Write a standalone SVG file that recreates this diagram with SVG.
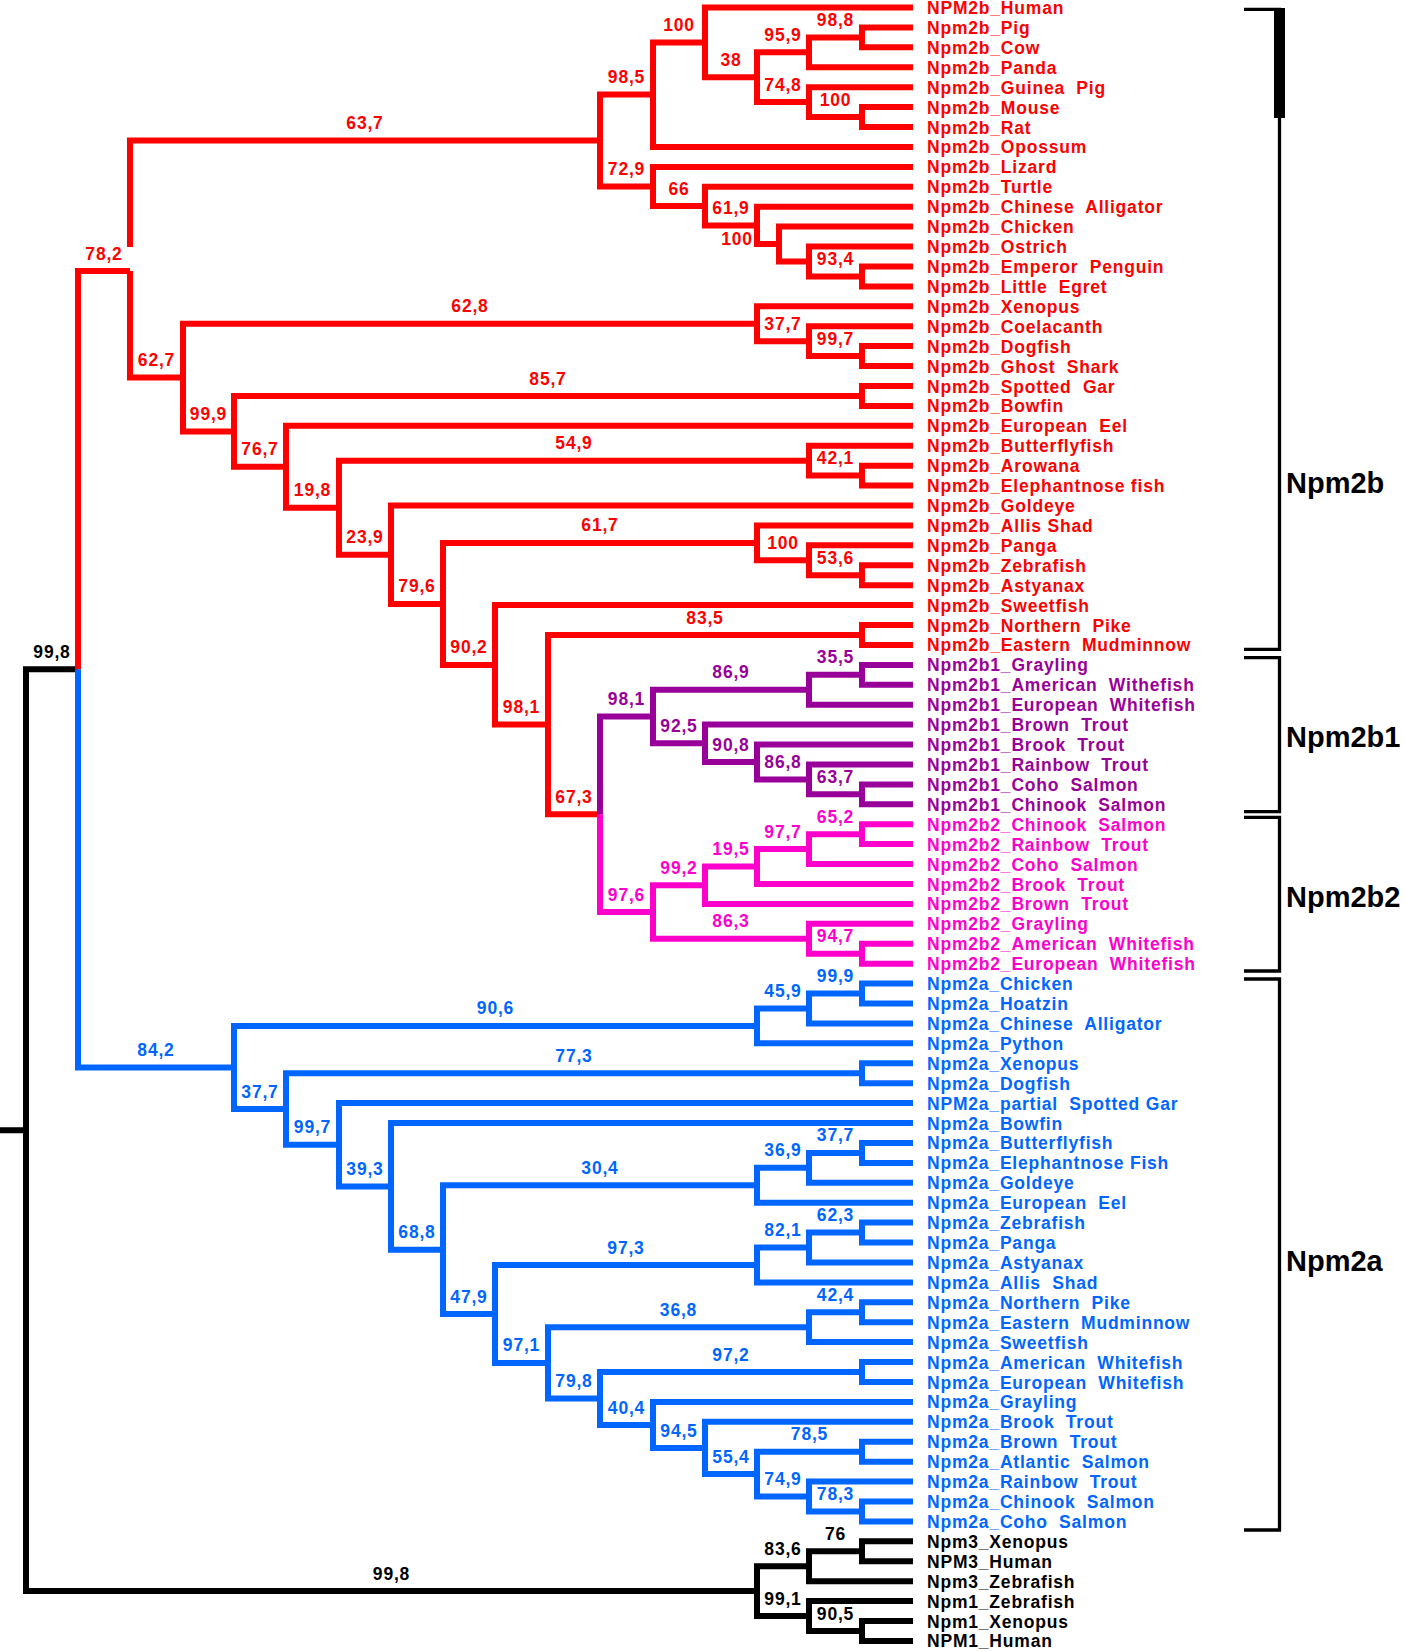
<svg xmlns="http://www.w3.org/2000/svg" width="1404" height="1652" viewBox="0 0 1404 1652">
<style>
.e{fill:none;stroke-width:6;stroke-linecap:butt;stroke-linejoin:miter}
.er{stroke:#FF0000}.ep{stroke:#990099}.em{stroke:#FF00CC}.eb{stroke:#0066FF}.ek{stroke:#000}
text{font-family:"Liberation Sans",Arial,sans-serif;font-weight:bold;font-size:17.5px;letter-spacing:0.8px;white-space:pre}
.s{text-anchor:middle}
.r{fill:#FF0000}.p{fill:#990099}.m{fill:#FF00CC}.b{fill:#0066FF}.k{fill:#000}
.br{fill:none;stroke:#000;stroke-width:3.3}
.gl{font-size:29px;letter-spacing:0}
</style>
<g id="connectors">
<path class="e ek" d="M0 1130.2H26M26 1130.2V669.2H78M26 1130.2V1591.1H757M757 1591.1V1566.2H809M757 1591.1V1616H809M809 1566.2V1551.3H862M809 1566.2V1581.2H913M862 1551.3V1541.3H913M862 1551.3V1561.3H913M809 1616V1601.1H913M809 1616V1631H862M862 1631V1621H913M862 1631V1640.9H913"/>
<path class="e er" d="M78 669.2V271H130M130 247V140.6H600M130 271V377.6H183
M600 140.6V94.6H653M600 140.6V186.5H653M653 94.6V42.4H705M653 94.6V146.9H913M705 42.4V7.5H913M705 42.4V77.2H757
M757 77.2V52.3H809M757 77.2V102.1H809M809 52.3V37.4H862M809 52.3V67.3H913M862 37.4V27.4H913M862 37.4V47.3H913
M809 102.1V87.2H913M809 102.1V117.1H862M862 117.1V107.1H913M862 117.1V127H913
M653 186.5V166.9H913M653 186.5V206.1H705M705 206.1V186.8H913M705 206.1V225.4H757M757 225.4V206.7H913M757 225.4V244.1H779
M779 244.1V226.6H913M779 244.1V261.5H809M809 261.5V246.5H913M809 261.5V276.4H862M862 276.4V266.5H913M862 276.4V286.4H913
M183 377.6V323.8H757M183 377.6V431.4H234M757 323.8V306.3H913M757 323.8V341.2H809M809 341.2V326.2H913M809 341.2V356.1H862
M862 356.1V346.1H913M862 356.1V366.1H913M234 431.4V396H862M234 431.4V466.8H286M862 396V386H913M862 396V405.9H913
M286 466.8V425.8H913M286 466.8V507.7H339M339 507.7V460.7H809M339 507.7V554.7H391M809 460.7V445.7H913M809 460.7V475.6H862
M862 475.6V465.7H913M862 475.6V485.6H913M391 554.7V505.5H913M391 554.7V603.9H443M443 603.9V542.9H757M443 603.9V664.9H495
M757 542.9V525.4H913M757 542.9V560.3H809M809 560.3V545.3H913M809 560.3V575.2H862M862 575.2V565.3H913M862 575.2V585.2H913
M495 664.9V605.1H913M495 664.9V724.6H548M548 724.6V635H862M548 724.6V814.2H600M862 635V625H913M862 635V644.9H913"/>
<path class="e ep" d="M600 814.2V716.5H653M653 716.5V689.8H809M653 716.5V743.3H705M809 689.8V674.8H862M809 689.8V704.7H913
M862 674.8V664.9H913M862 674.8V684.8H913M705 743.3V724.6H913M705 743.3V762H757M757 762V744.5H913M757 762V779.4H809
M809 779.4V764.5H913M809 779.4V794.3H862M862 794.3V784.4H913M862 794.3V804.3H913"/>
<path class="e em" d="M600 814.2V912H653M653 912V885.2H705M653 912V938.7H809M705 885.2V866.5H757M705 885.2V903.9H913
M757 866.5V849.1H809M757 866.5V884H913M809 849.1V834.2H862M809 849.1V864.1H913M862 834.2V824.2H913M862 834.2V844.1H913
M809 938.7V923.8H913M809 938.7V953.7H862M862 953.7V943.7H913M862 953.7V963.7H913"/>
<path class="e eb" d="M78 669.2V1067.5H234M234 1067.5V1025.9H757M234 1067.5V1109H286M757 1025.9V1008.5H809M757 1025.9V1043.3H913
M809 1008.5V993.5H862M809 1008.5V1023.4H913M862 993.5V983.6H913M862 993.5V1003.5H913
M286 1109V1073.2H862M286 1109V1144.8H339M862 1073.2V1063.3H913M862 1073.2V1083.2H913
M339 1144.8V1103.1H913M339 1144.8V1186.4H391M391 1186.4V1123H913M391 1186.4V1249.7H443
M443 1249.7V1185.3H757M443 1249.7V1314H495M757 1185.3V1167.8H809M757 1185.3V1202.7H913
M809 1167.8V1152.9H862M809 1167.8V1182.8H913M862 1152.9V1142.9H913M862 1152.9V1162.9H913
M495 1314V1265H757M495 1314V1362.9H548M757 1265V1247.5H809M757 1265V1282.4H913
M809 1247.5V1232.6H862M809 1247.5V1262.5H913M862 1232.6V1222.6H913M862 1232.6V1242.5H913
M548 1362.9V1327.2H809M548 1362.9V1398.5H600M809 1327.2V1312.3H862M809 1327.2V1342.1H913
M862 1312.3V1302.3H913M862 1312.3V1322.2H913M600 1398.5V1372H862M600 1398.5V1425H653
M862 1372V1362.1H913M862 1372V1382H913M653 1425V1401.9H913M653 1425V1448H705
M705 1448V1421.8H913M705 1448V1474.1H757M757 1474.1V1451.7H862M757 1474.1V1496.5H809
M862 1451.7V1441.7H913M862 1451.7V1461.7H913M809 1496.5V1481.6H913M809 1496.5V1511.5H862
M862 1511.5V1501.5H913M862 1511.5V1521.4H913"/>
</g>
<g id="internal-nodes">
<g id="n-root-npm2"><text class="s k" x="52" y="657.7">99,8</text></g>
<g id="n-npm13"><text class="s k" x="391.5" y="1579.6">99,8</text></g>
<g id="n-npm3"><text class="s k" x="783" y="1554.7">83,6</text></g>
<g id="n-npm3-xh"><text class="s k" x="835.5" y="1539.8">76</text></g>
<g id="n-npm1"><text class="s k" x="783" y="1604.5">99,1</text></g>
<g id="n-npm1-xh"><text class="s k" x="835.5" y="1619.5">90,5</text></g>
<g id="n-npm2b"><text class="s r" x="104" y="259.5">78,2</text></g>
<g id="n-tetra"><text class="s r" x="365" y="129.1">63,7</text></g>
<g id="n-mammal"><text class="s r" x="626.5" y="83.1">98,5</text></g>
<g id="n-placental"><text class="s r" x="679" y="30.9">100</text></g>
<g id="n-38"><text class="s r" x="731" y="65.7">38</text></g>
<g id="n-959"><text class="s r" x="783" y="40.8">95,9</text></g>
<g id="n-988"><text class="s r" x="835.5" y="25.9">98,8</text></g>
<g id="n-748"><text class="s r" x="783" y="90.6">74,8</text></g>
<g id="n-rodent"><text class="s r" x="835.5" y="105.6">100</text></g>
<g id="n-729"><text class="s r" x="626.5" y="175">72,9</text></g>
<g id="n-66"><text class="s r" x="679" y="194.6">66</text></g>
<g id="n-619"><text class="s r" x="731" y="213.9">61,9</text></g>
<g id="n-bird100"><text class="s r" x="737" y="245">100</text></g>
<g id="n-934"><text class="s r" x="835.5" y="264.9">93,4</text></g>
<g id="n-627"><text class="s r" x="156.5" y="366.1">62,7</text></g>
<g id="n-628"><text class="s r" x="470" y="312.3">62,8</text></g>
<g id="n-377a"><text class="s r" x="783" y="329.7">37,7</text></g>
<g id="n-997a"><text class="s r" x="835.5" y="344.6">99,7</text></g>
<g id="n-999a"><text class="s r" x="208.5" y="419.9">99,9</text></g>
<g id="n-857"><text class="s r" x="548" y="384.5">85,7</text></g>
<g id="n-767"><text class="s r" x="260" y="455.3">76,7</text></g>
<g id="n-198"><text class="s r" x="312.5" y="496.2">19,8</text></g>
<g id="n-549"><text class="s r" x="574" y="449.2">54,9</text></g>
<g id="n-421"><text class="s r" x="835.5" y="464.1">42,1</text></g>
<g id="n-239"><text class="s r" x="365" y="543.2">23,9</text></g>
<g id="n-796"><text class="s r" x="417" y="592.4">79,6</text></g>
<g id="n-617"><text class="s r" x="600" y="531.4">61,7</text></g>
<g id="n-100c"><text class="s r" x="783" y="548.8">100</text></g>
<g id="n-536"><text class="s r" x="835.5" y="563.7">53,6</text></g>
<g id="n-902"><text class="s r" x="469" y="653.4">90,2</text></g>
<g id="n-981r"><text class="s r" x="521.5" y="713.1">98,1</text></g>
<g id="n-835"><text class="s r" x="705" y="623.5">83,5</text></g>
<g id="n-673"><text class="s r" x="574" y="802.7">67,3</text></g>
<g id="n-981p"><text class="s p" x="626.5" y="705">98,1</text></g>
<g id="n-869"><text class="s p" x="731" y="678.3">86,9</text></g>
<g id="n-355"><text class="s p" x="835.5" y="663.3">35,5</text></g>
<g id="n-925"><text class="s p" x="679" y="731.8">92,5</text></g>
<g id="n-908"><text class="s p" x="731" y="750.5">90,8</text></g>
<g id="n-868"><text class="s p" x="783" y="767.9">86,8</text></g>
<g id="n-637p"><text class="s p" x="835.5" y="782.8">63,7</text></g>
<g id="n-976"><text class="s m" x="626.5" y="900.5">97,6</text></g>
<g id="n-992"><text class="s m" x="679" y="873.7">99,2</text></g>
<g id="n-195"><text class="s m" x="731" y="855">19,5</text></g>
<g id="n-977"><text class="s m" x="783" y="837.6">97,7</text></g>
<g id="n-652"><text class="s m" x="835.5" y="822.7">65,2</text></g>
<g id="n-863"><text class="s m" x="731" y="927.2">86,3</text></g>
<g id="n-947"><text class="s m" x="835.5" y="942.2">94,7</text></g>
<g id="n-842"><text class="s b" x="156" y="1056">84,2</text></g>
<g id="n-906"><text class="s b" x="495.5" y="1014.4">90,6</text></g>
<g id="n-459"><text class="s b" x="783" y="997">45,9</text></g>
<g id="n-999b"><text class="s b" x="835.5" y="982">99,9</text></g>
<g id="n-377b"><text class="s b" x="260" y="1097.5">37,7</text></g>
<g id="n-773"><text class="s b" x="574" y="1061.7">77,3</text></g>
<g id="n-997b"><text class="s b" x="312.5" y="1133.3">99,7</text></g>
<g id="n-393"><text class="s b" x="365" y="1174.9">39,3</text></g>
<g id="n-688"><text class="s b" x="417" y="1238.2">68,8</text></g>
<g id="n-304"><text class="s b" x="600" y="1173.8">30,4</text></g>
<g id="n-369"><text class="s b" x="783" y="1156.3">36,9</text></g>
<g id="n-377c"><text class="s b" x="835.5" y="1141.4">37,7</text></g>
<g id="n-479"><text class="s b" x="469" y="1302.5">47,9</text></g>
<g id="n-973"><text class="s b" x="626" y="1253.5">97,3</text></g>
<g id="n-821"><text class="s b" x="783" y="1236">82,1</text></g>
<g id="n-623"><text class="s b" x="835.5" y="1221.1">62,3</text></g>
<g id="n-971"><text class="s b" x="521.5" y="1351.4">97,1</text></g>
<g id="n-368"><text class="s b" x="678.5" y="1315.7">36,8</text></g>
<g id="n-424"><text class="s b" x="835.5" y="1300.8">42,4</text></g>
<g id="n-798"><text class="s b" x="574" y="1387">79,8</text></g>
<g id="n-972"><text class="s b" x="731" y="1360.5">97,2</text></g>
<g id="n-404"><text class="s b" x="626.5" y="1413.5">40,4</text></g>
<g id="n-945"><text class="s b" x="679" y="1436.5">94,5</text></g>
<g id="n-785"><text class="s b" x="809.5" y="1440.2">78,5</text></g>
<g id="n-554"><text class="s b" x="731" y="1462.6">55,4</text></g>
<g id="n-749"><text class="s b" x="783" y="1485">74,9</text></g>
<g id="n-783"><text class="s b" x="835.5" y="1500">78,3</text></g>
</g>
<g id="leaves">
<g id="l0"><text class="r" x="927" y="14">NPM2b_Human</text></g>
<g id="l1"><text class="r" x="927" y="33.9">Npm2b_Pig</text></g>
<g id="l2"><text class="r" x="927" y="53.8">Npm2b_Cow</text></g>
<g id="l3"><text class="r" x="927" y="73.8">Npm2b_Panda</text></g>
<g id="l4"><text class="r" x="927" y="93.7">Npm2b_Guinea  Pig</text></g>
<g id="l5"><text class="r" x="927" y="113.6">Npm2b_Mouse</text></g>
<g id="l6"><text class="r" x="927" y="133.5">Npm2b_Rat</text></g>
<g id="l7"><text class="r" x="927" y="153.4">Npm2b_Opossum</text></g>
<g id="l8"><text class="r" x="927" y="173.4">Npm2b_Lizard</text></g>
<g id="l9"><text class="r" x="927" y="193.3">Npm2b_Turtle</text></g>
<g id="l10"><text class="r" x="927" y="213.2">Npm2b_Chinese  Alligator</text></g>
<g id="l11"><text class="r" x="927" y="233.1">Npm2b_Chicken</text></g>
<g id="l12"><text class="r" x="927" y="253">Npm2b_Ostrich</text></g>
<g id="l13"><text class="r" x="927" y="273">Npm2b_Emperor  Penguin</text></g>
<g id="l14"><text class="r" x="927" y="292.9">Npm2b_Little  Egret</text></g>
<g id="l15"><text class="r" x="927" y="312.8">Npm2b_Xenopus</text></g>
<g id="l16"><text class="r" x="927" y="332.7">Npm2b_Coelacanth</text></g>
<g id="l17"><text class="r" x="927" y="352.6">Npm2b_Dogfish</text></g>
<g id="l18"><text class="r" x="927" y="372.6">Npm2b_Ghost  Shark</text></g>
<g id="l19"><text class="r" x="927" y="392.5">Npm2b_Spotted  Gar</text></g>
<g id="l20"><text class="r" x="927" y="412.4">Npm2b_Bowfin</text></g>
<g id="l21"><text class="r" x="927" y="432.3">Npm2b_European  Eel</text></g>
<g id="l22"><text class="r" x="927" y="452.2">Npm2b_Butterflyfish</text></g>
<g id="l23"><text class="r" x="927" y="472.2">Npm2b_Arowana</text></g>
<g id="l24"><text class="r" x="927" y="492.1">Npm2b_Elephantnose fish</text></g>
<g id="l25"><text class="r" x="927" y="512">Npm2b_Goldeye</text></g>
<g id="l26"><text class="r" x="927" y="531.9">Npm2b_Allis Shad</text></g>
<g id="l27"><text class="r" x="927" y="551.8">Npm2b_Panga</text></g>
<g id="l28"><text class="r" x="927" y="571.8">Npm2b_Zebrafish</text></g>
<g id="l29"><text class="r" x="927" y="591.7">Npm2b_Astyanax</text></g>
<g id="l30"><text class="r" x="927" y="611.6">Npm2b_Sweetfish</text></g>
<g id="l31"><text class="r" x="927" y="631.5">Npm2b_Northern  Pike</text></g>
<g id="l32"><text class="r" x="927" y="651.4">Npm2b_Eastern  Mudminnow</text></g>
<g id="l33"><text class="p" x="927" y="671.4">Npm2b1_Grayling</text></g>
<g id="l34"><text class="p" x="927" y="691.3">Npm2b1_American  Withefish</text></g>
<g id="l35"><text class="p" x="927" y="711.2">Npm2b1_European  Whitefish</text></g>
<g id="l36"><text class="p" x="927" y="731.1">Npm2b1_Brown  Trout</text></g>
<g id="l37"><text class="p" x="927" y="751">Npm2b1_Brook  Trout</text></g>
<g id="l38"><text class="p" x="927" y="771">Npm2b1_Rainbow  Trout</text></g>
<g id="l39"><text class="p" x="927" y="790.9">Npm2b1_Coho  Salmon</text></g>
<g id="l40"><text class="p" x="927" y="810.8">Npm2b1_Chinook  Salmon</text></g>
<g id="l41"><text class="m" x="927" y="830.7">Npm2b2_Chinook  Salmon</text></g>
<g id="l42"><text class="m" x="927" y="850.6">Npm2b2_Rainbow  Trout</text></g>
<g id="l43"><text class="m" x="927" y="870.6">Npm2b2_Coho  Salmon</text></g>
<g id="l44"><text class="m" x="927" y="890.5">Npm2b2_Brook  Trout</text></g>
<g id="l45"><text class="m" x="927" y="910.4">Npm2b2_Brown  Trout</text></g>
<g id="l46"><text class="m" x="927" y="930.3">Npm2b2_Grayling</text></g>
<g id="l47"><text class="m" x="927" y="950.2">Npm2b2_American  Whitefish</text></g>
<g id="l48"><text class="m" x="927" y="970.2">Npm2b2_European  Whitefish</text></g>
<g id="l49"><text class="b" x="927" y="990.1">Npm2a_Chicken</text></g>
<g id="l50"><text class="b" x="927" y="1010">Npm2a_Hoatzin</text></g>
<g id="l51"><text class="b" x="927" y="1029.9">Npm2a_Chinese  Alligator</text></g>
<g id="l52"><text class="b" x="927" y="1049.8">Npm2a_Python</text></g>
<g id="l53"><text class="b" x="927" y="1069.8">Npm2a_Xenopus</text></g>
<g id="l54"><text class="b" x="927" y="1089.7">Npm2a_Dogfish</text></g>
<g id="l55"><text class="b" x="927" y="1109.6">NPM2a_partial  Spotted Gar</text></g>
<g id="l56"><text class="b" x="927" y="1129.5">Npm2a_Bowfin</text></g>
<g id="l57"><text class="b" x="927" y="1149.4">Npm2a_Butterflyfish</text></g>
<g id="l58"><text class="b" x="927" y="1169.4">Npm2a_Elephantnose Fish</text></g>
<g id="l59"><text class="b" x="927" y="1189.3">Npm2a_Goldeye</text></g>
<g id="l60"><text class="b" x="927" y="1209.2">Npm2a_European  Eel</text></g>
<g id="l61"><text class="b" x="927" y="1229.1">Npm2a_Zebrafish</text></g>
<g id="l62"><text class="b" x="927" y="1249">Npm2a_Panga</text></g>
<g id="l63"><text class="b" x="927" y="1269">Npm2a_Astyanax</text></g>
<g id="l64"><text class="b" x="927" y="1288.9">Npm2a_Allis  Shad</text></g>
<g id="l65"><text class="b" x="927" y="1308.8">Npm2a_Northern  Pike</text></g>
<g id="l66"><text class="b" x="927" y="1328.7">Npm2a_Eastern  Mudminnow</text></g>
<g id="l67"><text class="b" x="927" y="1348.6">Npm2a_Sweetfish</text></g>
<g id="l68"><text class="b" x="927" y="1368.6">Npm2a_American  Whitefish</text></g>
<g id="l69"><text class="b" x="927" y="1388.5">Npm2a_European  Whitefish</text></g>
<g id="l70"><text class="b" x="927" y="1408.4">Npm2a_Grayling</text></g>
<g id="l71"><text class="b" x="927" y="1428.3">Npm2a_Brook  Trout</text></g>
<g id="l72"><text class="b" x="927" y="1448.2">Npm2a_Brown  Trout</text></g>
<g id="l73"><text class="b" x="927" y="1468.2">Npm2a_Atlantic  Salmon</text></g>
<g id="l74"><text class="b" x="927" y="1488.1">Npm2a_Rainbow  Trout</text></g>
<g id="l75"><text class="b" x="927" y="1508">Npm2a_Chinook  Salmon</text></g>
<g id="l76"><text class="b" x="927" y="1527.9">Npm2a_Coho  Salmon</text></g>
<g id="l77"><text class="k" x="927" y="1547.8">Npm3_Xenopus</text></g>
<g id="l78"><text class="k" x="927" y="1567.8">NPM3_Human</text></g>
<g id="l79"><text class="k" x="927" y="1587.7">Npm3_Zebrafish</text></g>
<g id="l80"><text class="k" x="927" y="1607.6">Npm1_Zebrafish</text></g>
<g id="l81"><text class="k" x="927" y="1627.5">Npm1_Xenopus</text></g>
<g id="l82"><text class="k" x="927" y="1647.4">NPM1_Human</text></g>
</g>
<g id="brackets">
<path class="br" d="M1244 9.3H1279.5V649.3H1244M1244 657.7H1279.5V811.7H1244M1244 817.3H1279.5V971H1244M1244 979H1279.5V1530H1244"/>
<rect x="1274" y="8" width="11" height="110" fill="#000"/>
<text class="gl k" x="1286" y="492.5">Npm2b</text>
<text class="gl k" x="1286" y="747">Npm2b1</text>
<text class="gl k" x="1286" y="907">Npm2b2</text>
<text class="gl k" x="1286" y="1271">Npm2a</text>
</g>
</svg>
